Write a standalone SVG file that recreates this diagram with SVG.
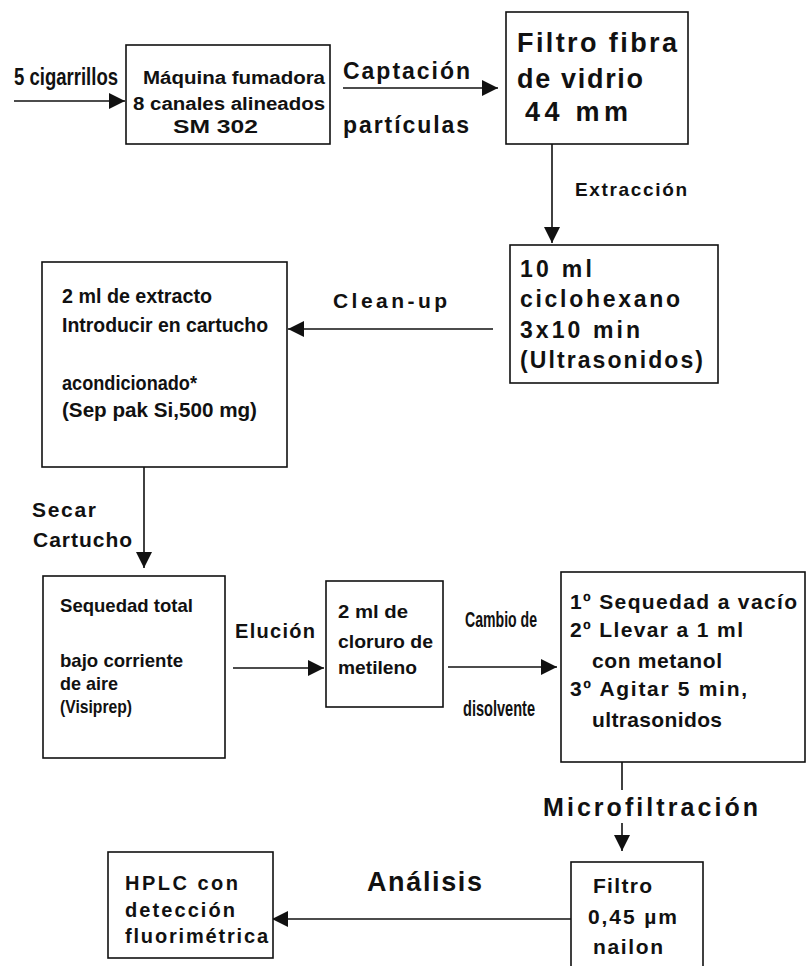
<svg xmlns="http://www.w3.org/2000/svg" width="807" height="966" viewBox="0 0 807 966">
  <style>
    .box { fill: #fff; stroke: #111; stroke-width: 1.6; }
    .ln { stroke: #111; stroke-width: 1.6; fill: none; }
    .t { font-family: "Liberation Sans", Arial, sans-serif; font-weight: bold; fill: #111; }
  </style>
  <defs>
    <marker id="ah" viewBox="0 0 10 10" refX="10" refY="5" markerWidth="16" markerHeight="16" markerUnits="userSpaceOnUse" orient="auto">
      <path d="M0,0 L10,5 L0,10 z" fill="#111"/>
    </marker>
  </defs>

  <!-- connectors and their labels -->
  <g id="connectors">
    <line class="ln" x1="14" y1="101" x2="125" y2="101" marker-end="url(#ah)"/>
    <line class="ln" x1="343" y1="88" x2="498" y2="88" marker-end="url(#ah)"/>
    <line class="ln" x1="552" y1="144" x2="552" y2="243" marker-end="url(#ah)"/>
    <line class="ln" x1="493" y1="329" x2="288" y2="329" marker-end="url(#ah)"/>
    <line class="ln" x1="144" y1="458" x2="144" y2="568" marker-end="url(#ah)"/>
    <line class="ln" x1="233" y1="668" x2="324" y2="668" marker-end="url(#ah)"/>
    <line class="ln" x1="448" y1="667" x2="557" y2="667" marker-end="url(#ah)"/>
    <line class="ln" x1="622" y1="760" x2="622" y2="790"/>
    <line class="ln" x1="622" y1="823" x2="622" y2="851" marker-end="url(#ah)"/>
    <line class="ln" x1="571" y1="919" x2="272" y2="919" marker-end="url(#ah)"/>

    <text class="t" x="14" y="85" font-size="23" textLength="104" lengthAdjust="spacingAndGlyphs">5 cigarrillos</text>
    <text class="t" x="343" y="79" font-size="23" textLength="127" lengthAdjust="spacing">Captación</text>
    <text class="t" x="343" y="133" font-size="23" textLength="126" lengthAdjust="spacing">partículas</text>
    <text class="t" x="575" y="196" font-size="19" textLength="112" lengthAdjust="spacing">Extracción</text>
    <text class="t" x="333" y="308" font-size="21" textLength="114" lengthAdjust="spacing">Clean-up</text>
    <text class="t" x="32" y="517" font-size="21" textLength="64" lengthAdjust="spacing">Secar</text>
    <text class="t" x="33" y="547" font-size="21" textLength="99" lengthAdjust="spacing">Cartucho</text>
    <text class="t" x="235" y="638" font-size="20" textLength="80" lengthAdjust="spacing">Elución</text>
    <text class="t" x="465" y="627" font-size="22" textLength="72" lengthAdjust="spacingAndGlyphs">Cambio de</text>
    <text class="t" x="463" y="716" font-size="22" textLength="72" lengthAdjust="spacingAndGlyphs">disolvente</text>
    <text class="t" x="543" y="816" font-size="25" textLength="215" lengthAdjust="spacing">Microfiltración</text>
    <text class="t" x="367" y="891" font-size="27" textLength="115" lengthAdjust="spacing">Análisis</text>
  </g>

  <!-- smoking machine -->
  <g id="maquina">
    <rect class="box" x="126" y="45" width="204" height="99"/>
    <text class="t" x="143" y="84" font-size="18" textLength="182" lengthAdjust="spacingAndGlyphs">Máquina fumadora</text>
    <text class="t" x="133" y="110" font-size="18" textLength="192" lengthAdjust="spacingAndGlyphs">8 canales alineados</text>
    <text class="t" x="173" y="133" font-size="18" textLength="85" lengthAdjust="spacingAndGlyphs">SM 302</text>
  </g>

  <!-- glass fibre filter -->
  <g id="filtro-fibra">
    <rect class="box" x="506" y="12" width="182" height="132"/>
    <text class="t" x="517" y="52" font-size="27" textLength="160" lengthAdjust="spacing">Filtro fibra</text>
    <text class="t" x="517" y="88" font-size="27" textLength="126" lengthAdjust="spacing">de vidrio</text>
    <text class="t" x="525" y="121" font-size="27" textLength="103" lengthAdjust="spacing">44 mm</text>
  </g>

  <!-- cyclohexane extraction -->
  <g id="ciclohexano">
    <rect class="box" x="510" y="245" width="208" height="138"/>
    <text class="t" x="520" y="277" font-size="23" textLength="72" lengthAdjust="spacing">10 ml</text>
    <text class="t" x="520" y="307" font-size="23" textLength="160" lengthAdjust="spacing">ciclohexano</text>
    <text class="t" x="520" y="338" font-size="23" textLength="120" lengthAdjust="spacing">3x10 min</text>
    <text class="t" x="520" y="368" font-size="23" textLength="183" lengthAdjust="spacing">(Ultrasonidos)</text>
  </g>

  <!-- cartridge clean-up -->
  <g id="cartucho">
    <rect class="box" x="42" y="262" width="245" height="205"/>
    <text class="t" x="62" y="303" font-size="20" textLength="150" lengthAdjust="spacingAndGlyphs">2 ml de extracto</text>
    <text class="t" x="62" y="332" font-size="20" textLength="206" lengthAdjust="spacingAndGlyphs">Introducir en cartucho</text>
    <text class="t" x="62" y="390" font-size="20" textLength="135" lengthAdjust="spacingAndGlyphs">acondicionado*</text>
    <text class="t" x="62" y="417" font-size="20" textLength="195" lengthAdjust="spacingAndGlyphs">(Sep pak Si,500 mg)</text>
  </g>

  <!-- drying under air -->
  <g id="sequedad">
    <rect class="box" x="43" y="576" width="182" height="182"/>
    <text class="t" x="60" y="612" font-size="19" textLength="133" lengthAdjust="spacingAndGlyphs">Sequedad total</text>
    <text class="t" x="60" y="667" font-size="19" textLength="123" lengthAdjust="spacingAndGlyphs">bajo corriente</text>
    <text class="t" x="60" y="690" font-size="19" textLength="58" lengthAdjust="spacingAndGlyphs">de aire</text>
    <text class="t" x="60" y="713" font-size="19" textLength="72" lengthAdjust="spacingAndGlyphs">(Visiprep)</text>
  </g>

  <!-- elution solvent -->
  <g id="cloruro">
    <rect class="box" x="326" y="581" width="117" height="126"/>
    <text class="t" x="338" y="618" font-size="19" textLength="70" lengthAdjust="spacingAndGlyphs">2 ml de</text>
    <text class="t" x="338" y="648" font-size="19" textLength="95" lengthAdjust="spacingAndGlyphs">cloruro de</text>
    <text class="t" x="338" y="674" font-size="19" textLength="79" lengthAdjust="spacingAndGlyphs">metileno</text>
  </g>

  <!-- solvent exchange steps -->
  <g id="cambio">
    <rect class="box" x="561" y="572" width="244" height="190"/>
    <text class="t" x="570" y="609" font-size="21" textLength="227" lengthAdjust="spacing">1º Sequedad a vacío</text>
    <text class="t" x="570" y="637" font-size="21" textLength="173" lengthAdjust="spacing">2º Llevar a 1 ml</text>
    <text class="t" x="592" y="668" font-size="21" textLength="130" lengthAdjust="spacing">con metanol</text>
    <text class="t" x="570" y="696" font-size="21" textLength="177" lengthAdjust="spacing">3º Agitar 5 min,</text>
    <text class="t" x="592" y="727" font-size="21" textLength="130" lengthAdjust="spacing">ultrasonidos</text>
  </g>

  <!-- nylon filter -->
  <g id="filtro-nailon">
    <rect class="box" x="571" y="862" width="132" height="110"/>
    <text class="t" x="593" y="893" font-size="21" textLength="59" lengthAdjust="spacing">Filtro</text>
    <text class="t" x="588" y="924" font-size="21" textLength="89" lengthAdjust="spacing">0,45 µm</text>
    <text class="t" x="593" y="954" font-size="21" textLength="70" lengthAdjust="spacing">nailon</text>
  </g>

  <!-- HPLC -->
  <g id="hplc">
    <rect class="box" x="108" y="852" width="165" height="106"/>
    <text class="t" x="125" y="890" font-size="20" textLength="113" lengthAdjust="spacing">HPLC con</text>
    <text class="t" x="125" y="917" font-size="20" textLength="110" lengthAdjust="spacing">detección</text>
    <text class="t" x="125" y="943" font-size="20" textLength="143" lengthAdjust="spacing">fluorimétrica</text>
  </g>
</svg>
